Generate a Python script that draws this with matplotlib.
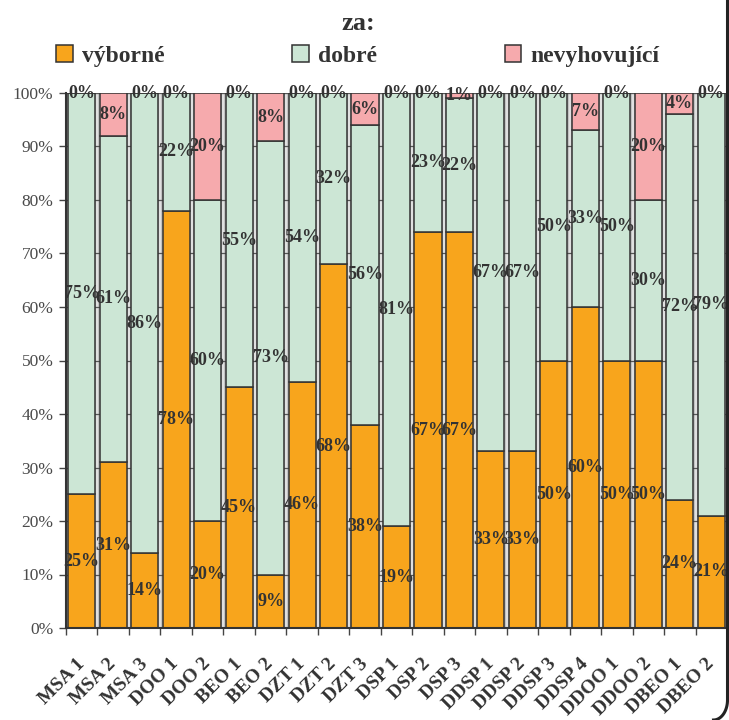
import numpy as np
import matplotlib
matplotlib.use("Agg")
import matplotlib.pyplot as plt
from matplotlib.lines import Line2D

# categories (x axis)
skupiny = ['MSA 1', 'MSA 2', 'MSA 3', 'DOO 1', 'DOO 2', 'BEO 1', 'BEO 2',
           'DZT 1', 'DZT 2', 'DZT 3', 'DSP 1', 'DSP 2', 'DSP 3',
           'DDSP 1', 'DDSP 2', 'DDSP 3', 'DDSP 4', 'DDOO 1', 'DDOO 2',
           'DBEO 1', 'DBEO 2']

# segment heights in %
vyborne = [25, 31, 14, 78, 20, 45, 10, 46, 68, 38, 19, 74, 74, 33, 33, 50, 60, 50, 50, 24, 21]
dobre = [75, 61, 86, 22, 60, 55, 81, 54, 32, 56, 81, 26, 25, 67, 67, 50, 33, 50, 30, 72, 79]
nevyhov = [0, 8, 0, 0, 20, 0, 9, 0, 0, 6, 0, 0, 1, 0, 0, 0, 7, 0, 20, 4, 0]

# printed labels (as they appear on the chart)
lab_v = ['25%', '31%', '14%', '78%', '20%', '45%', '9%', '46%', '68%', '38%', '19%',
         '67%', '67%', '33%', '33%', '50%', '60%', '50%', '50%', '24%', '21%']
lab_d = ['75%', '61%', '86%', '22%', '60%', '55%', '73%', '54%', '32%', '56%', '81%',
         '23%', '22%', '67%', '67%', '50%', '33%', '50%', '30%', '72%', '79%']
lab_n = ['0%', '8%', '0%', '0%', '20%', '0%', '8%', '0%', '0%', '6%', '0%',
         '0%', '1%', '0%', '0%', '0%', '7%', '0%', '20%', '4%', '0%']

serif = ['Liberation Serif', 'DejaVu Serif']
plt.rcParams['font.family'] = serif

c_v = '#F8A51C'
c_d = '#CCE6D5'
c_n = '#F6AAAD'
edge = '#333333'

fig = plt.figure(figsize=(7.29, 7.2), dpi=100)
ax = fig.add_axes([66 / 729, 92 / 720, 661 / 729, 535 / 720])
ax.set_facecolor('#c2c2c2')

x = np.arange(len(skupiny))
v = np.array(vyborne)
d = np.array(dobre)
n = np.array(nevyhov)

# light strip in the middle of the gaps
for b in x[:-1] + 0.5:
    ax.axvline(b, color='#e4e4e4', lw=1.3, zorder=0.5)

w = 0.86
b1 = ax.bar(x, v, w, color=c_v, edgecolor=edge, linewidth=1.1, zorder=2, label='výborné')
b2 = ax.bar(x, d, w, bottom=v, color=c_d, edgecolor=edge, linewidth=1.1, zorder=2, label='dobré')
b3 = ax.bar(x, n, w, bottom=v + d, color=c_n, edgecolor=edge, linewidth=1.1, zorder=2, label='nevyhovující')

lab_kw = dict(ha='center', va='center', fontsize=13, fontweight='bold',
              color='#333333', zorder=5, clip_on=False)
for i in range(len(x)):
    ax.text(x[i], v[i] / 2, lab_v[i], **lab_kw)
    ax.text(x[i], v[i] + d[i] / 2, lab_d[i], **lab_kw)
    ax.text(x[i], v[i] + d[i] + n[i] / 2, lab_n[i], **lab_kw)

ax.set_xlim(-0.5, len(x) - 0.5)
ax.set_ylim(0, 100)
ax.set_yticks(np.arange(0, 101, 10))
ax.set_yticklabels([f'{t}%' for t in range(0, 101, 10)], fontsize=12.5, color='#4a4a4a')
ax.yaxis.grid(True, color='#555555', lw=0.9)
ax.set_axisbelow(True)

ax.set_xticks(x)
ax.set_xticklabels(skupiny, rotation=45, ha='right', va='center',
                   rotation_mode='anchor', fontsize=14, fontweight='bold', color='#333333')
ax.set_xticks(np.arange(-0.5, len(x), 1), minor=True)
ax.tick_params(axis='x', which='major', length=0, pad=24)
ax.tick_params(axis='x', which='minor', length=5, color='#444444', width=1)
ax.tick_params(axis='y', length=5, color='#444444', width=1, pad=4)

for s in ['top', 'right']:
    ax.spines[s].set_visible(False)
ax.spines['left'].set_color('#333333')
ax.spines['bottom'].set_color('#333333')
ax.spines['left'].set_linewidth(1.5)
ax.spines['bottom'].set_linewidth(1.5)

# title and legend
fig.text(358 / 729, 1 - 24 / 720, 'za:', ha='center', va='center',
         fontsize=19, fontweight='bold', color='#333333')
fig.legend(handles=[b1, b2, b3], loc='center', bbox_to_anchor=(358 / 729, 1 - 56 / 720),
           ncol=3, frameon=False, handlelength=0.7, handleheight=0.7,
           handletextpad=0.4, columnspacing=5.4,
           prop={'family': serif, 'weight': 'bold', 'size': 17},
           labelcolor='#333333')

# dark frame on the right edge
t = np.linspace(0, np.pi / 2, 20)
fx = list(np.full(2, 727.5)) + list(727.5 - 14 * (1 - np.cos(t)))
fy = [720, 20] + list(20 - 20 * np.sin(t))
fig.add_artist(Line2D(np.array(fx) / 729, np.array(fy) / 720, color='#222222', lw=2.2))

fig.savefig('out.png', dpi=100)
